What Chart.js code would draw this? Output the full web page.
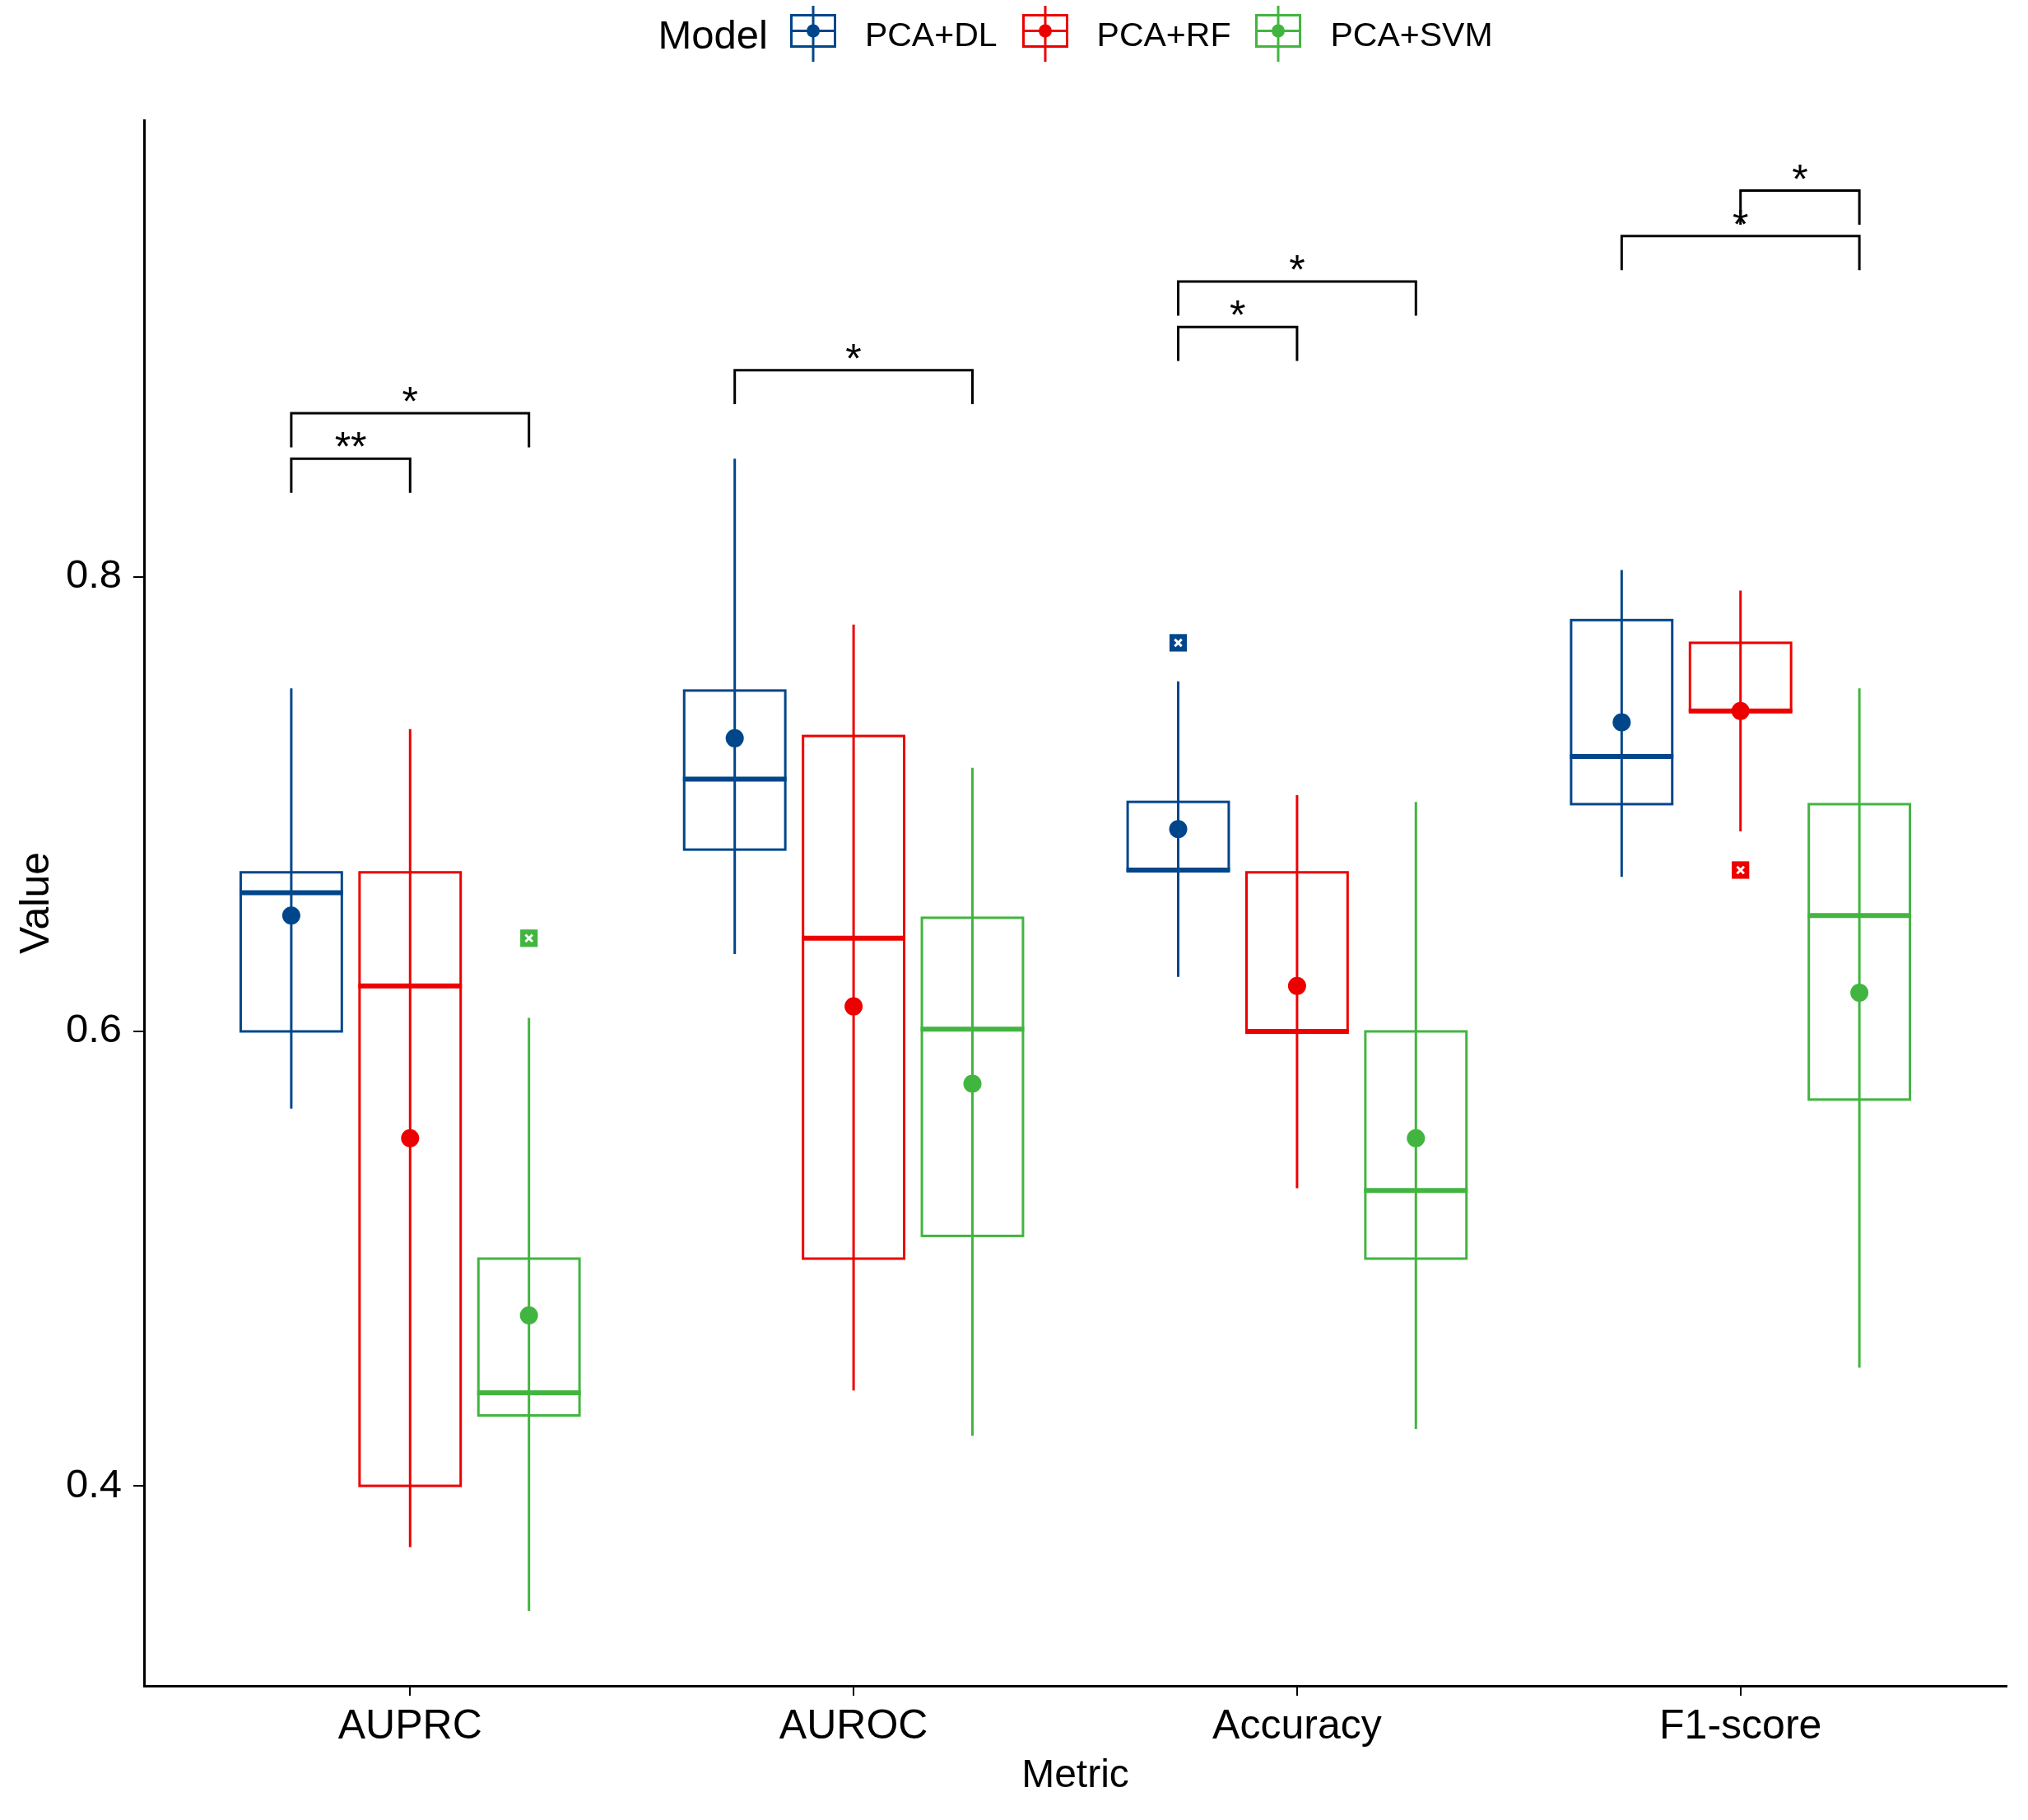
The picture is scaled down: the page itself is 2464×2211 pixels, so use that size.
<!DOCTYPE html>
<html>
<head>
<meta charset="utf-8">
<script src="https://cdn.jsdelivr.net/npm/chart.js@4.4.1/dist/chart.umd.min.js"></script>
<style>
html, body { margin: 0; padding: 0; background: #fff; }
#wrap { position: relative; width: 2464px; height: 2211px; }
#chart { position: absolute; left: 0; top: 0; }
#legend {
    position: absolute; left: 175px; width: 2263px; top: 0; height: 84px;
    display: flex; justify-content: center; align-items: center;
    font-family: "Liberation Sans", Arial, sans-serif; color: #000;
}
#legend .title { font-size: 49px; margin-right: 27px; }
#legend .item { display: flex; align-items: center; margin-right: 30px; }
#legend .item:last-child { margin-right: 0; }
#legend .item span { font-size: 41px; margin-left: 35px; }
</style>
</head>
<body>
<div id="wrap">
    <canvas id="chart" width="2464" height="2211"></canvas>
    <div id="legend"></div>
</div>
<script>
const categories = ['AUPRC', 'AUROC', 'Accuracy', 'F1-score'];
const models = ['PCA+DL', 'PCA+RF', 'PCA+SVM'];
const modelColors = ['#00468B', '#ED0000', '#42B540'];

// per metric: [lower whisker, Q1, median, Q3, upper whisker]
const dlBoxes = [
    [0.566, 0.600, 0.661, 0.670, 0.751],
    [0.634, 0.680, 0.711, 0.750, 0.852],
    [0.624, 0.671, 0.671, 0.701, 0.754],
    [0.668, 0.700, 0.721, 0.781, 0.803]
];
const rfBoxes = [
    [0.373, 0.400, 0.620, 0.670, 0.733],
    [0.442, 0.500, 0.641, 0.730, 0.779],
    [0.531, 0.600, 0.600, 0.670, 0.704],
    [0.688, 0.741, 0.741, 0.771, 0.794]
];
const svmBoxes = [
    [0.345, 0.431, 0.441, 0.500, 0.606],
    [0.422, 0.510, 0.601, 0.650, 0.716],
    [0.425, 0.500, 0.530, 0.600, 0.701],
    [0.452, 0.570, 0.651, 0.700, 0.751]
];
const dlMeans = [0.651, 0.729, 0.689, 0.736];
const rfMeans = [0.553, 0.611, 0.620, 0.741];
const svmMeans = [0.475, 0.577, 0.553, 0.617];
const dlOutliers = [[], [], [0.771], []];
const rfOutliers = [[], [], [], [0.671]];
const svmOutliers = [[0.641], [], [], []];

const yTicks = [0.4, 0.6, 0.8];

// significance brackets (model index from / to, inside a metric)
const sigMetric = [0, 0, 1, 2, 2, 3, 3];
const sigFrom = [0, 0, 0, 0, 0, 0, 1];
const sigTo = [1, 2, 2, 1, 2, 2, 2];
const sigHeight = [0.852, 0.872, 0.891, 0.910, 0.930, 0.950, 0.970];
const sigLabels = ['**', '*', '*', '*', '*', '*', '*'];

window.metricsPlot = window.metricsPlot || {};
window.metricsPlot.BoxChart = function() {
    this.logPrefix = '[BoxChart] ';
};

window.metricsPlot.BoxChart.prototype = function() {
    var self = this;
    var FONT = '"Liberation Sans", Arial, sans-serif';
    var DODGE = 0.268;
    var HALF_BOX = 0.114;
    var TIP = 0.015;

    var allBoxes = [dlBoxes, rfBoxes, svmBoxes];
    var allMeans = [dlMeans, rfMeans, svmMeans];
    var allOutliers = [dlOutliers, rfOutliers, svmOutliers];

    var init = function(canvasId, legendId) {
        self = this;
        self.canvas = document.getElementById(canvasId);
        self.legendEl = document.getElementById(legendId);

        Chart.defaults.font.family = FONT;
        Chart.defaults.color = '#000';

        renderLegend();
        renderChart();
    };

    var xOf = function(metric, model) {
        return metric + (model - 1) * DODGE;
    };

    var renderLegend = function() {
        var html = '<div class="title">Model</div>';
        models.forEach(function(name, m) {
            var c = modelColors[m];
            html += '<div class="item">' +
                '<svg width="56" height="70" viewBox="0 0 56 70">' +
                '<line x1="28" y1="0" x2="28" y2="68" stroke="' + c + '" stroke-width="3"/>' +
                '<rect x="1.5" y="11.5" width="53" height="38" fill="none" stroke="' + c + '" stroke-width="3"/>' +
                '<line x1="1.5" y1="30.5" x2="54.5" y2="30.5" stroke="' + c + '" stroke-width="3"/>' +
                '<circle cx="28" cy="30.5" r="8" fill="' + c + '"/>' +
                '</svg><span>' + name + '</span></div>';
        });
        self.legendEl.innerHTML = html;
    };

    var boxPlugin = {
        id: 'boxes',
        beforeDatasetsDraw: function(chart) {
            var ctx = chart.ctx, xs = chart.scales.x, ys = chart.scales.y;
            ctx.save();
            allBoxes.forEach(function(boxes, m) {
                boxes.forEach(function(b, i) {
                    var cx = xOf(i, m);
                    var px = xs.getPixelForValue(cx);
                    var left = xs.getPixelForValue(cx - HALF_BOX);
                    var right = xs.getPixelForValue(cx + HALF_BOX);
                    var yLo = ys.getPixelForValue(b[0]);
                    var yQ1 = ys.getPixelForValue(b[1]);
                    var yMed = ys.getPixelForValue(b[2]);
                    var yQ3 = ys.getPixelForValue(b[3]);
                    var yHi = ys.getPixelForValue(b[4]);

                    ctx.strokeStyle = modelColors[m];
                    ctx.lineWidth = 3;
                    ctx.beginPath();
                    ctx.moveTo(px, yLo);
                    ctx.lineTo(px, yHi);
                    ctx.stroke();
                    ctx.strokeRect(left, yQ3, right - left, yQ1 - yQ3);

                    ctx.lineWidth = 6;
                    ctx.beginPath();
                    ctx.moveTo(left - 1.5, yMed);
                    ctx.lineTo(right + 1.5, yMed);
                    ctx.stroke();
                });
            });
            ctx.restore();
        }
    };

    var sigPlugin = {
        id: 'signif',
        afterDatasetsDraw: function(chart) {
            var ctx = chart.ctx, xs = chart.scales.x, ys = chart.scales.y;
            ctx.save();
            ctx.strokeStyle = '#000';
            ctx.fillStyle = '#000';
            ctx.lineWidth = 3;
            ctx.font = '50px ' + FONT;
            ctx.textAlign = 'center';
            ctx.textBaseline = 'alphabetic';
            sigLabels.forEach(function(label, k) {
                var x1 = xs.getPixelForValue(xOf(sigMetric[k], sigFrom[k]));
                var x2 = xs.getPixelForValue(xOf(sigMetric[k], sigTo[k]));
                var yTop = ys.getPixelForValue(sigHeight[k]);
                var yLeg = ys.getPixelForValue(sigHeight[k] - TIP);
                ctx.beginPath();
                ctx.moveTo(x1, yLeg);
                ctx.lineTo(x1, yTop);
                ctx.lineTo(x2, yTop);
                ctx.lineTo(x2, yLeg);
                ctx.stroke();
                ctx.fillText(label, (x1 + x2) / 2, yTop + 3);
            });
            ctx.restore();
        }
    };

    var buildDatasets = function() {
        var sets = [];
        allMeans.forEach(function(means, m) {
            sets.push({
                label: models[m],
                data: means.map(function(v, i) { return { x: xOf(i, m), y: v }; }),
                pointStyle: 'circle',
                pointRadius: 11,
                backgroundColor: modelColors[m],
                borderColor: modelColors[m],
                borderWidth: 0,
                order: 2
            });
        });
        allOutliers.forEach(function(outs, m) {
            var pts = [];
            outs.forEach(function(list, i) {
                list.forEach(function(v) { pts.push({ x: xOf(i, m), y: v }); });
            });
            sets.push({
                label: models[m] + ' outlier',
                data: pts,
                pointStyle: 'rect',
                pointRadius: 15,
                backgroundColor: modelColors[m],
                borderColor: modelColors[m],
                borderWidth: 0,
                order: 1
            });
            sets.push({
                label: models[m] + ' outlier mark',
                data: pts,
                pointStyle: 'crossRot',
                pointRadius: 6,
                borderColor: '#fff',
                borderWidth: 3,
                order: 0
            });
        });
        return sets;
    };

    var renderChart = function() {
        self.chart = new Chart(self.canvas, {
            type: 'scatter',
            data: { datasets: buildDatasets() },
            options: {
                responsive: false,
                animation: false,
                devicePixelRatio: 1,
                layout: { padding: { top: 146, right: 26, left: 0, bottom: 0 } },
                plugins: { legend: { display: false }, tooltip: { enabled: false } },
                scales: {
                    x: {
                        type: 'linear',
                        min: -0.6,
                        max: 3.6,
                        afterBuildTicks: function(s) {
                            s.ticks = categories.map(function(c, i) { return { value: i }; });
                        },
                        afterFit: function(s) { s.height = 163; },
                        ticks: {
                            callback: function(v, i) { return categories[i]; },
                            font: { size: 50 },
                            color: '#000',
                            padding: 8,
                            maxRotation: 0,
                            autoSkip: false
                        },
                        grid: { drawOnChartArea: false, tickLength: 12, color: '#000', lineWidth: 2 },
                        border: { color: '#000', width: 3 },
                        title: { display: true, text: 'Metric', font: { size: 48 }, color: '#000', padding: { top: 0, bottom: 24 } }
                    },
                    y: {
                        min: 0.312,
                        max: 1.001,
                        afterBuildTicks: function(s) {
                            s.ticks = yTicks.map(function(v) { return { value: v }; });
                        },
                        afterFit: function(s) { s.width = 175; },
                        ticks: {
                            callback: function(v) { return v.toFixed(1); },
                            font: { size: 49 },
                            color: '#000',
                            padding: 14
                        },
                        grid: { drawOnChartArea: false, tickLength: 13, color: '#000', lineWidth: 2 },
                        border: { color: '#000', width: 3 },
                        title: { display: true, text: 'Value', font: { size: 50 }, color: '#000', padding: { top: 15, bottom: 0 } }
                    }
                }
            },
            plugins: [boxPlugin, sigPlugin]
        });
    };

    var log = function(data) {
        console.log(self.logPrefix, data);
    };

    return {
        init: init,
        log: log
    };
}();

var boxChart = new window.metricsPlot.BoxChart();
boxChart.init('chart', 'legend');
</script>
</body>
</html>
